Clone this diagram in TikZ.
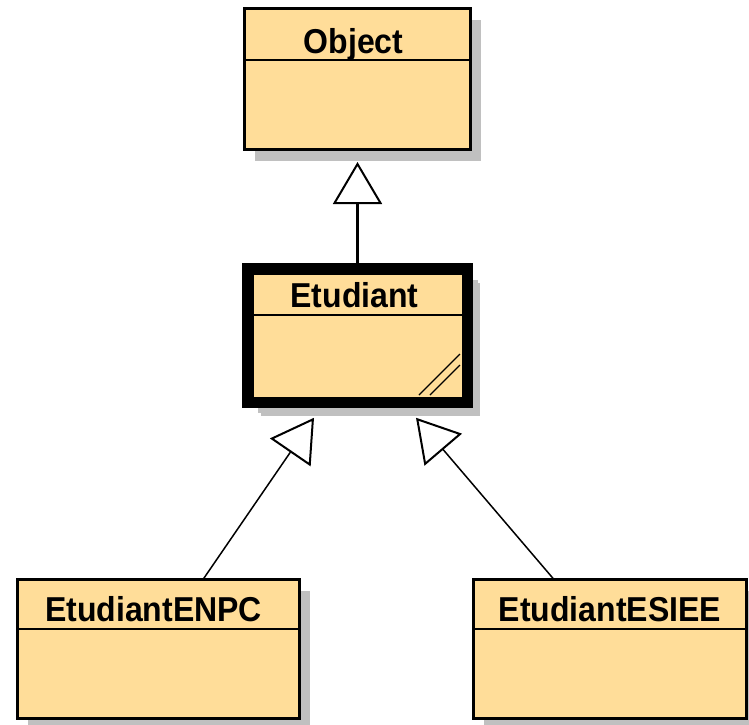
\documentclass[tikz,border=0pt]{standalone}
\usepackage{fontspec}
\setmainfont{Liberation Sans}
\usepackage{tikz}
\usetikzlibrary{arrows.meta}
\usetikzlibrary{shadows}
\usetikzlibrary{positioning}

\definecolor{classfill}{RGB}{255,221,153}
\definecolor{shadowgray}{RGB}{192,192,192}

\newcommand{\classtitle}[1]{\scalebox{1}[1.08]{#1}}

\tikzset{
    classbox/.style={draw=black, line width=3pt, fill=classfill, inner sep=0pt, outer sep=0pt,
        drop shadow={shadow xshift=10.5pt, shadow yshift=-11pt, fill=shadowgray, opacity=1}},
    classname/.style={anchor=base, inner sep=0pt, font=\fontsize{32}{38}\selectfont\bfseries},
    separator/.style={line width=2pt},
    generalization/.style={line width=1.5pt,
        -{Triangle[open, length=42pt, width=49pt, line width=2pt, fill=white]}}
}

\begin{document}
\begin{tikzpicture}[x=1pt, y=-1pt]

\useasboundingbox (0,0) rectangle (749,724);

\node[classbox, minimum width=226pt, minimum height=141pt] (obj) at (357.5,79) {};
\draw[separator] ([yshift=-51.5pt]obj.north west) -- ([yshift=-51.5pt]obj.north east);
\node[classname] (objname) at ([xshift=-4pt, yshift=-44.5pt]obj.north) {\classtitle{Object}};

\node[classbox, line width=11.5pt, minimum width=219.5pt, minimum height=133.5pt,
    drop shadow={shadow xshift=13pt, shadow yshift=-14pt, fill=shadowgray, opacity=1}] (etu) at (357.5,335.5) {};
\draw[separator] ([yshift=-46.5pt]etu.north west) -- ([yshift=-46.5pt]etu.north east);
\node[classname] (etuname) at ([xshift=-3pt, yshift=-38.5pt]etu.north) {\classtitle{Etudiant}};
\draw[line width=1.2pt] (419,395) -- (460,354);
\draw[line width=1.2pt] (430,395) -- (460,365);

\node[classbox, minimum width=282pt, minimum height=139pt] (enpc) at (158.5,649) {};
\draw[separator] ([yshift=-49.5pt]enpc.north west) -- ([yshift=-49.5pt]enpc.north east);
\node[classname] (enpcname) at ([xshift=-5pt, yshift=-41.5pt]enpc.north) {\classtitle{EtudiantENPC}};

\node[classbox, minimum width=273pt, minimum height=139pt] (esiee) at (610,649) {};
\draw[separator] ([yshift=-49.5pt]esiee.north west) -- ([yshift=-49.5pt]esiee.north east);
\node[classname] (esieename) at ([yshift=-41.5pt]esiee.north) {\classtitle{EtudiantESIEE}};

\draw[generalization, line width=2.5pt, shorten >=12.5pt] (etu.north) -- (obj.south);
\draw[generalization] ([xshift=44.5pt]enpc.north) -- ([xshift=-43.5pt, yshift=-15.5pt]etu.south);
\draw[generalization] ([xshift=-56pt]esiee.north) -- ([xshift=58.5pt, yshift=-15.5pt]etu.south);

\end{tikzpicture}
\end{document}
